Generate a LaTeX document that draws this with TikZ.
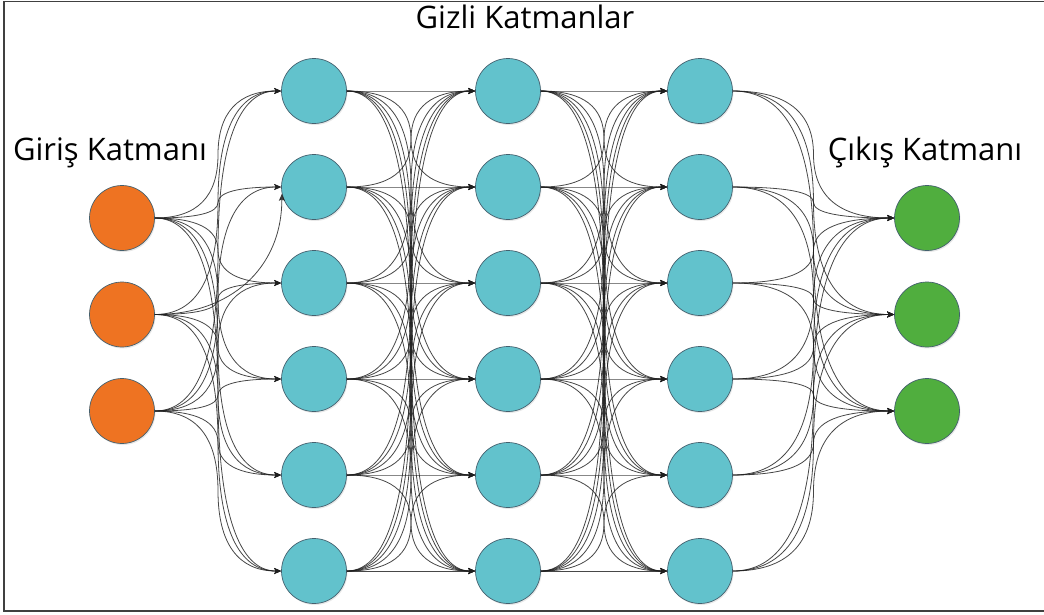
\documentclass[tikz,border=0pt]{standalone}
\usepackage{fontspec}
\setmainfont{Open Sans}
\usepackage{tikz}
\usetikzlibrary{arrows.meta,shadows,calc}
\definecolor{inc}{HTML}{EE7322}
\definecolor{hidc}{HTML}{62C2CC}
\definecolor{outc}{HTML}{50AE3E}
\definecolor{rim}{HTML}{44606E}
\definecolor{wirec}{HTML}{1E1E1E}
\tikzset{
  >={Stealth[length=7pt,width=6pt,inset=1.5pt]},
  neuron/.style={circle,draw=rim,line width=0.7pt,minimum size=65pt,inner sep=0pt,
    drop shadow={opacity=0.18,shadow xshift=1pt,shadow yshift=-1.5pt}},
  inn/.style={neuron,fill=inc},
  hid/.style={neuron,fill=hidc},
  outn/.style={neuron,fill=outc},
  lab/.style={font=\fontsize{31}{36}\selectfont,anchor=base},
  wire/.style={->,draw=wirec,line width=0.8pt,opacity=0.82},
  frame/.style={draw=black!75,line width=1.6pt},
}
% two quadratic bends meeting upright at the midpoint: #3 half gap, #4 rise
\newcommand{\link}[4]{\draw[wire] (#1.east) .. controls +(0.6667*#3,0) and +(0,-#4/3) .. ($(#1.east)!0.5!(#2.west)$)
  .. controls +(0,#4/3) and +(-0.6667*#3,0) .. (#2.west);}

\begin{document}
\begin{tikzpicture}[x=1pt,y=-1pt]
\useasboundingbox (0,0) rectangle (1044,614);
\draw[frame] (1044,1.5) -- (4,1.5) -- (4,611) -- (1044,611);

% layers
\foreach \i in {1,2,3}{
  \pgfmathsetmacro\yy{218+96.5*(\i-1)}
  \node[inn] (in\i) at (122,\yy) {};
  \node[outn] (out\i) at (927,\yy) {};
}
\foreach \j in {1,...,6}{
  \pgfmathsetmacro\yy{91+96*(\j-1)}
  \node[hid] (ha\j) at (314,\yy) {};
  \node[hid] (hb\j) at (508,\yy) {};
  \node[hid] (hc\j) at (700,\yy) {};
}

% connections
\foreach \j in {1,...,6}{
  \foreach \i in {1,2,3}{
    \pgfmathsetmacro\dy{(91+96*(\j-1))-(218+96.5*(\i-1))}
    \ifnum\i\j=22 \else \link{in\i}{ha\j}{63.5}{\dy} \fi
    \link{hc\j}{out\i}{81}{-\dy}
  }
  \foreach \k in {1,...,6}{
    \pgfmathsetmacro\dd{96*(\k-\j)}
    \link{ha\j}{hb\k}{64.5}{\dd}
    \link{hb\j}{hc\k}{64.5}{\dd}
  }
}
% this one comes in from below
\draw[wire] (in2.east) .. controls +(75,0) and +(0,75) .. (ha2.192);

\node[lab] (tgizli) at (525,28) {Gizli Katmanlar};
\node[lab] (tgiris) at (110,160) {Giriş Katmanı};
\node[lab] (tcikis) at (925,160) {Çıkış Katmanı};
\end{tikzpicture}
\end{document}
